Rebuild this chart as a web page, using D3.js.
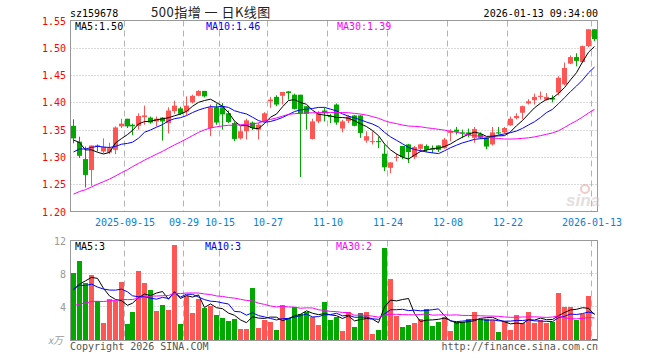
<!DOCTYPE html>
<html>
<head>
<meta charset="utf-8">
<script src="https://cdn.jsdelivr.net/npm/d3@7"></script>
<style>
  body { margin: 0; background: #fff; }
  svg text { font-family: 'DejaVu Sans Mono', monospace; font-size: 10px; }
</style>
</head>
<body>
<div id="container"></div>
<script>
// daily candles, 2025-09-02 .. 2026-01-13
var open  = [1.357,1.328,1.296,1.276,1.321,1.310,1.308,1.313,1.356,1.370,1.359,1.357,1.373,1.372,1.365,1.372,1.362,1.384,1.389,1.383,1.400,1.412,1.421,1.353,1.391,1.391,1.380,1.362,1.334,1.347,1.363,1.350,1.365,1.402,1.410,1.412,1.420,1.414,1.414,1.393,1.333,1.365,1.385,1.375,1.396,1.352,1.366,1.376,1.376,1.330,1.328,1.329,1.306,1.280,1.298,1.320,1.323,1.300,1.315,1.320,1.315,1.321,1.316,1.344,1.350,1.345,1.345,1.335,1.342,1.335,1.323,1.345,1.345,1.358,1.371,1.381,1.398,1.404,1.410,1.405,1.408,1.418,1.433,1.471,1.483,1.474,1.503,1.534];
var close = [1.334,1.302,1.267,1.321,1.319,1.318,1.316,1.354,1.361,1.356,1.356,1.375,1.376,1.363,1.370,1.365,1.385,1.394,1.379,1.394,1.412,1.421,1.411,1.391,1.363,1.378,1.364,1.333,1.347,1.367,1.353,1.359,1.380,1.405,1.396,1.419,1.417,1.388,1.379,1.379,1.365,1.380,1.380,1.373,1.363,1.365,1.374,1.357,1.344,1.338,1.329,1.327,1.281,1.290,1.300,1.300,1.309,1.318,1.323,1.313,1.314,1.313,1.332,1.347,1.346,1.343,1.340,1.351,1.335,1.319,1.345,1.343,1.353,1.370,1.375,1.393,1.402,1.410,1.412,1.410,1.405,1.445,1.463,1.483,1.476,1.503,1.534,1.516];
var high  = [1.369,1.337,1.319,1.321,1.323,1.334,1.326,1.356,1.370,1.370,1.361,1.380,1.394,1.374,1.374,1.373,1.391,1.403,1.392,1.411,1.414,1.422,1.421,1.396,1.398,1.399,1.385,1.365,1.356,1.370,1.365,1.362,1.382,1.410,1.413,1.419,1.421,1.416,1.414,1.393,1.370,1.384,1.390,1.379,1.398,1.368,1.377,1.377,1.377,1.347,1.347,1.337,1.323,1.290,1.306,1.320,1.324,1.320,1.324,1.323,1.321,1.321,1.335,1.351,1.355,1.350,1.352,1.355,1.345,1.336,1.355,1.355,1.355,1.374,1.380,1.394,1.406,1.416,1.420,1.417,1.413,1.448,1.473,1.486,1.490,1.504,1.534,1.534];
var low   = [1.325,1.298,1.244,1.247,1.310,1.307,1.305,1.305,1.353,1.353,1.340,1.350,1.359,1.361,1.356,1.330,1.343,1.379,1.377,1.377,1.398,1.411,1.409,1.338,1.359,1.350,1.362,1.329,1.332,1.332,1.349,1.332,1.364,1.390,1.393,1.396,1.405,1.387,1.263,1.350,1.332,1.362,1.365,1.362,1.359,1.345,1.362,1.356,1.335,1.326,1.323,1.316,1.274,1.270,1.292,1.296,1.289,1.296,1.309,1.309,1.307,1.309,1.315,1.329,1.341,1.335,1.336,1.326,1.333,1.314,1.321,1.341,1.343,1.357,1.369,1.369,1.396,1.396,1.405,1.403,1.400,1.413,1.431,1.470,1.466,1.473,1.501,1.512];
var volume = [8.16,9.6,6.9,7.84,4.8,2.16,5.04,4.8,7.08,2.04,3.4,8.4,6.96,6.12,3.6,4.32,3.72,11.52,2.04,5.4,3.36,5.04,3.96,4.2,3.12,2.76,2.4,2.64,1.44,1.44,6.36,1.56,2.44,2.28,1.32,4.32,2.76,4.08,3.24,3.4,2.88,1.92,4.68,2.52,2.88,1.2,3.48,1.68,3.36,3.48,0.84,1.32,11.16,7.44,3.0,1.68,1.92,2.16,2.64,3.84,1.8,2.28,2.88,1.2,2.28,2.28,2.64,3.48,2.64,2.64,2.52,1.08,2.4,1.32,3.12,2.16,3.48,2.16,2.52,2.16,2.28,5.76,4.08,4.08,2.52,3.24,5.4,0.24];

// the 29 sessions before the window, estimated from where the MA lines start
var prevClose = [1.160,1.165,1.170,1.168,1.175,1.180,1.178,1.185,1.190,1.188,1.195,1.200,1.198,1.205,1.210,1.208,1.215,1.220,1.225,1.230,1.245,1.270,1.290,1.300,1.330,1.325,1.335,1.320,1.341];
var prevVolume = [2.8,3.5,2.6,3.9,3.1,2.4,3.6,2.9,3.3,2.7,3.8,3.0,2.5,3.4,3.2,2.9,3.6,3.1,3.3,3.2,5.2,7.4,6.1,8.3,4.6,6.2,4.9,5.8,5.34];

var tickDays   = [9, 19, 25, 33, 43, 53, 63, 73, 87];
var tickLabels = ['2025-09-15', '09-29', '10-15', '10-27', '11-10', '11-24', '12-08', '12-22', '2026-01-13'];
var priceTicks = [1.20, 1.25, 1.30, 1.35, 1.40, 1.45, 1.50, 1.55];
var volTicks   = [4, 8, 12];
var maDays     = [5, 10, 30];
var maColors   = ['#000', '#0000ff', '#ff00ff'];

var red = '#ff5555', green = '#00a800', gridColor = '#b4b4b4';

var svg = d3.select('#container').append('svg')
  .attr('width', 660).attr('height', 360);

var x = d3.scaleBand().domain(d3.range(close.length)).range([70.6, 597.7]);
var y = d3.scaleLinear().domain([1.20, 1.55]).range([211.5, 20.5]);
var yv = d3.scaleLinear().domain([0, 12]).range([340.5, 240.5]);

function movingAvg(all, n, offset) {
  return d3.range(all.length - offset).map(function(i) {
    var k = i + offset;
    return d3.mean(all.slice(k - n + 1, k + 1));
  });
}
var allClose = prevClose.concat(close),
    allVol = prevVolume.concat(volume);
var priceMA = maDays.map(function(n) { return movingAvg(allClose, n, prevClose.length); });
var volMA = maDays.map(function(n) { return movingAvg(allVol, n, prevVolume.length); });

function isUp(i) { return close[i] >= open[i]; }
function px(i) { return Math.round(x(i)); }

// header
svg.append('text').attr('x', 70).attr('y', 17).attr('fill', '#000').text('sz159678');
svg.append('text').attr('x', 151).attr('y', 17)
  .style('font-family', "'Noto Sans CJK SC', sans-serif").style('font-size', '13px')
  .style('letter-spacing', '0.5px').style('white-space', 'pre')
  .attr('fill', '#222').text('500指增 一 日K线图');
svg.append('text').attr('x', 598).attr('y', 17).attr('text-anchor', 'end').attr('fill', '#000')
  .text('2026-01-13 09:34:00');

function panel(top, bottom, hLines) {
  var g = svg.append('g');
  g.selectAll('.h').data(hLines).enter().append('line')
    .attr('x1', 70.5).attr('x2', 597.5)
    .attr('y1', function(d) { return d; }).attr('y2', function(d) { return d; })
    .attr('stroke', gridColor).attr('stroke-dasharray', '1,2');
  g.selectAll('.v').data(tickDays).enter().append('line')
    .attr('x1', function(d) { return px(d) - 0.5; }).attr('x2', function(d) { return px(d) - 0.5; })
    .attr('y1', top).attr('y2', bottom)
    .attr('stroke', gridColor).attr('stroke-dasharray', '6,4');
  g.append('rect').attr('x', 70.5).attr('y', top).attr('width', 527).attr('height', bottom - top)
    .attr('fill', 'none').attr('stroke', '#999');
  return g;
}

// price panel
var main = panel(20.5, 211.5, priceTicks.slice(1, -1).map(function(p) { return Math.round(y(p)) + 0.5; }));

svg.append('g').selectAll('text').data(priceTicks).enter().append('text')
  .attr('x', 66).attr('y', function(d) { return y(d) + 4; })
  .attr('text-anchor', 'end').attr('fill', '#f00')
  .text(function(d) { return d.toFixed(2); });

svg.append('g').selectAll('text').data(tickDays).enter().append('text')
  .attr('x', function(d) { return px(d); }).attr('y', 226)
  .attr('text-anchor', 'middle').attr('fill', '#0a80d8')
  .text(function(d, i) { return tickLabels[i]; });

// sina watermark
var wm = main.append('g').attr('opacity', 0.55);
wm.append('text').attr('x', 566).attr('y', 206)
  .style('font-family', 'Arial, sans-serif').style('font-size', '17px')
  .style('font-weight', 'bold').style('font-style', 'italic')
  .attr('fill', '#cfc4c4').text('sina');
wm.append('circle').attr('cx', 585).attr('cy', 189).attr('r', 4)
  .attr('fill', 'none').attr('stroke', '#e6a0a0').attr('stroke-width', 2);

var candles = main.selectAll('.candle').data(close).enter().append('g');
candles.append('line')
  .attr('x1', function(d, i) { return px(i) + 2.5; })
  .attr('x2', function(d, i) { return px(i) + 2.5; })
  .attr('y1', function(d, i) { return y(high[i]); })
  .attr('y2', function(d, i) { return y(low[i]); })
  .attr('stroke', function(d, i) { return isUp(i) ? red : green; });
candles.append('rect')
  .attr('x', function(d, i) { return px(i); })
  .attr('width', 5)
  .attr('y', function(d, i) { return y(Math.max(open[i], close[i])); })
  .attr('height', function(d, i) { return Math.max(1, Math.abs(y(open[i]) - y(close[i]))); })
  .attr('fill', function(d, i) { return isUp(i) ? red : green; });

var priceLine = d3.line()
  .x(function(d, i) { return px(i) + 2.5; })
  .y(function(d) { return y(d); });
priceMA.forEach(function(s, k) {
  main.append('path').attr('d', priceLine(s))
    .attr('fill', 'none').attr('stroke', maColors[k]).attr('stroke-width', 1);
});

var maLegendX = [75, 206, 337];
priceMA.forEach(function(s, k) {
  svg.append('text').attr('x', maLegendX[k]).attr('y', 30).attr('fill', maColors[k])
    .text('MA' + maDays[k] + ':' + s[s.length - 1].toFixed(2));
});

// volume panel
var vol = panel(240.5, 340.5, [8, 4].map(function(v) { return Math.round(yv(v)) - 0.5; }));

vol.selectAll('.bar').data(volume).enter().append('rect')
  .attr('x', function(d, i) { return px(i); })
  .attr('width', 5)
  .attr('y', function(d) { return Math.round(yv(d)); })
  .attr('height', function(d) { return 340 - Math.round(yv(d)); })
  .attr('fill', function(d, i) { return isUp(i) ? red : green; });

var volLine = d3.line()
  .x(function(d, i) { return px(i) + 2.5; })
  .y(function(d) { return yv(d); });
volMA.forEach(function(s, k) {
  vol.append('path').attr('d', volLine(s))
    .attr('fill', 'none').attr('stroke', maColors[k]).attr('stroke-width', 1);
});

volMA.forEach(function(s, k) {
  svg.append('text').attr('x', maLegendX[k] - (k ? 1 : 0)).attr('y', 250).attr('fill', maColors[k])
    .text('MA' + maDays[k] + ':' + Math.floor(s[s.length - 1]));
});

svg.append('g').selectAll('text').data(volTicks).enter().append('text')
  .attr('x', 66).attr('y', function(d) { return yv(d) + 4; })
  .attr('text-anchor', 'end').attr('fill', '#999')
  .text(function(d) { return d; });
svg.append('text').attr('x', 63).attr('y', 344).attr('text-anchor', 'end').attr('fill', '#999')
  .style('font-family', "'Noto Sans CJK SC', serif").style('font-style', 'italic')
  .text('x万');

svg.append('text').attr('x', 70).attr('y', 350).attr('fill', '#555').text('Copyright 2026 SINA.COM');
svg.append('text').attr('x', 598).attr('y', 350).attr('text-anchor', 'end').attr('fill', '#555')
  .text('http://finance.sina.com.cn');
</script>
</body>
</html>
